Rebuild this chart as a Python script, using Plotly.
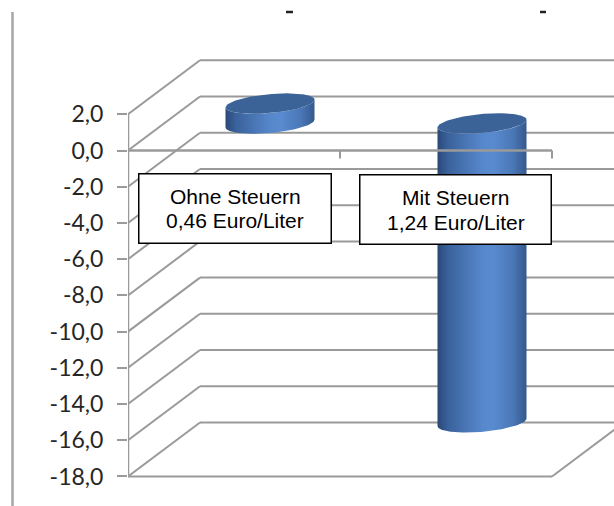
import numpy as np
import plotly.graph_objects as go

# ---------------- data ----------------
categories = ["Ohne Steuern", "Mit Steuern"]
values = [1.1, -16.5]
box_lines = [["Ohne Steuern", "0,46 Euro/Liter"], ["Mit Steuern", "1,24 Euro/Liter"]]
tick_values = [-18, -16, -14, -12, -10, -8, -6, -4, -2, 0, 2]
tick_labels = ["-18,0", "-16,0", "-14,0", "-12,0", "-10,0", "-8,0", "-6,0", "-4,0", "-2,0", "0,0", "2,0"]

# ---------------- geometry / style ----------------
W, H = 614, 506
L = 128            # left edge of plot area (front value axis)
PX_PER_CAT = 212   # pixels per category
PX_PER_UNIT = 18.11
ZERO_PY = 150.5
DX = 72 / PX_PER_CAT       # depth offset (x, in category units)
DV = 54 / PX_PER_UNIT      # depth offset (value units)
GRID = "#9a9a9a"

x_range = [-0.5, -0.5 + (W - L) / PX_PER_CAT]
y_range = [(ZERO_PY - H) / PX_PER_UNIT, ZERO_PY / PX_PER_UNIT]


def paper_x(px):
    return (px - L) / (W - L)


def paper_y(py):
    return 1 - py / H


fig = go.Figure()

# ---------------- cylinders ----------------
a = 44.5 / PX_PER_CAT
b = 9.5 / PX_PER_UNIT
shear = 3.8 / PX_PER_UNIT
side_scale = [[0.0, "#2a4877"], [0.12, "#3a629c"], [0.5, "#5687cb"],
              [0.62, "#5a8bd0"], [0.85, "#4a77b6"], [1.0, "#34598d"]]


def ellipse(cx, cy, t):
    return cx + a * np.cos(t), cy + b * np.sin(t) + shear * np.cos(t)


for i, v in enumerate(values):
    cx = i + DX / 2
    base = DV / 2
    top = v + DV / 2
    upper, lower = max(base, top), min(base, top)
    tf = np.linspace(np.pi, 2 * np.pi, 60)
    xl, yl = ellipse(cx, lower, tf)
    xu, yu = ellipse(cx, upper, tf[::-1])
    fig.add_trace(go.Scatter(
        x=np.concatenate([xl, xu]), y=np.concatenate([yl, yu]),
        mode="lines", line=dict(width=0), fill="toself",
        fillgradient=dict(type="horizontal", colorscale=side_scale),
        hoverinfo="skip", showlegend=False, name=categories[i]))
    tt = np.linspace(0, 2 * np.pi, 120)
    xc, yc = ellipse(cx, upper, tt)
    fig.add_trace(go.Scatter(
        x=xc, y=yc, mode="lines", line=dict(width=0), fill="toself",
        fillcolor="#3b6398", hoverinfo="skip", showlegend=False))

# ---------------- walls / grid ----------------
shapes = []
for v in tick_values:
    shapes.append(dict(type="line", xref="x", yref="y", layer="below",
                       x0=-0.5 + DX, x1=1.5 + DX, y0=v + DV, y1=v + DV,
                       line=dict(color=GRID, width=2)))
    shapes.append(dict(type="line", xref="x", yref="y", layer="below",
                       x0=-0.5, x1=-0.5 + DX, y0=v, y1=v + DV,
                       line=dict(color=GRID, width=2)))
ymin, ymax = min(tick_values), max(tick_values)
shapes.append(dict(type="line", xref="x", yref="y", layer="below",
                   x0=-0.5, x1=-0.5, y0=ymin, y1=ymax, line=dict(color=GRID, width=2.5)))
shapes.append(dict(type="line", xref="x", yref="y", layer="below",
                   x0=-0.5, x1=1.5, y0=ymin, y1=ymin, line=dict(color=GRID, width=2)))
shapes.append(dict(type="line", xref="x", yref="y", layer="below",
                   x0=1.5, x1=1.5 + DX, y0=ymin, y1=ymin + DV, line=dict(color=GRID, width=2)))
# category axis (front, value 0) drawn above the cylinders
shapes.append(dict(type="line", xref="x", yref="y", layer="above",
                   x0=-0.5, x1=1.5, y0=0, y1=0, line=dict(color=GRID, width=2.5)))
for k in range(len(categories)):
    xb = k + 0.5
    shapes.append(dict(type="line", xref="x", yref="y", layer="above",
                       x0=xb, x1=xb, y0=0, y1=-8 / PX_PER_UNIT, line=dict(color=GRID, width=2)))
# outer left border line
shapes.append(dict(type="line", xref="paper", yref="paper",
                   x0=paper_x(12.5), x1=paper_x(12.5), y0=paper_y(12), y1=paper_y(506),
                   line=dict(color="#a6a6a6", width=2.5)))
# clipped title remnants at top
for x0, x1 in [(286, 293), (540, 546)]:
    shapes.append(dict(type="line", xref="paper", yref="paper",
                       x0=paper_x(x0), x1=paper_x(x1), y0=paper_y(12), y1=paper_y(12),
                       line=dict(color="#222222", width=2.5)))

# ---------------- label boxes ----------------
box_rects = [(138, 173, 332, 244), (359, 174, 552, 245)]
annotations = []
for (x0, y0, x1, y1), lines in zip(box_rects, box_lines):
    shapes.append(dict(type="rect", xref="paper", yref="paper", layer="above",
                       x0=paper_x(x0 + 0.75), x1=paper_x(x1 - 0.75),
                       y0=paper_y(y0 + 0.75), y1=paper_y(y1 - 0.75),
                       fillcolor="white", line=dict(color="black", width=1.5)))
    cx = (x0 + x1) / 2
    cy = (y0 + y1) / 2
    for j, txt in enumerate(lines):
        annotations.append(dict(
            x=paper_x(cx), y=paper_y(cy - 12.5 + 25 * j), xref="paper", yref="paper",
            text=txt, showarrow=False, xanchor="center", yanchor="middle",
            font=dict(family="Liberation Sans, Arial, sans-serif", size=21, color="black")))

fig.update_layout(
    width=W, height=H,
    margin=dict(l=L, r=0, t=0, b=0),
    paper_bgcolor="white", plot_bgcolor="white",
    shapes=shapes, annotations=annotations, showlegend=False,
    xaxis=dict(range=x_range, visible=False, fixedrange=True),
    yaxis=dict(range=y_range, tickvals=tick_values, ticktext=tick_labels,
               ticks="outside", ticklen=10, tickwidth=2, tickcolor=GRID,
               showgrid=False, zeroline=False, showline=False,
               ticklabelstandoff=9,
               tickfont=dict(family="Lato, Open Sans, sans-serif", size=23, color="#262626"),
               fixedrange=True),
)

fig.write_html("out.html")
